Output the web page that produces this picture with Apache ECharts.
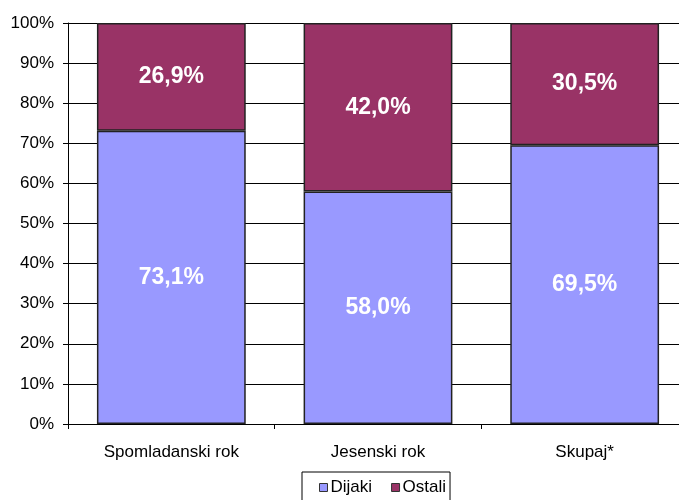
<!DOCTYPE html>
<html><head><meta charset="utf-8">
<script src="https://cdn.jsdelivr.net/npm/echarts@6/dist/echarts.min.js"></script>
<style>html,body{margin:0;padding:0;background:#fff;overflow:hidden;width:679px;height:500px}#c{width:690px;height:500px}</style>
</head><body><div id="c"></div>
<script>
var categories = ['Spomladanski rok', 'Jesenski rok', 'Skupaj*'];
var dijaki = [73.1, 58.0, 69.5];
var ostali = [26.9, 42.0, 30.5];
var yTicks = [0, 10, 20, 30, 40, 50, 60, 70, 80, 90, 100];

var font = 'Liberation Sans, Arial, sans-serif';
var chart = echarts.init(document.getElementById('c'), null, {renderer: 'canvas'});
function lbl(v) { return v.toFixed(1).replace('.', ',') + '%'; }
chart.setOption({
  animation: false,
  grid: {left: 68, right: 2, top: 23, bottom: 76},
  legend: {
    top: 472, left: 302,
    data: ['Dijaki', 'Ostali'],
    itemWidth: 8, itemHeight: 8, itemGap: 19,
    icon: 'rect',
    padding: [7, 4, 9, 17],
    borderColor: '#000', borderWidth: 1,
    itemStyle: {borderColor: '#333', borderWidth: 1},
    textStyle: {fontFamily: font, fontSize: 17, color: '#000', padding: [0, 0, 0, -2]}
  },
  xAxis: {
    type: 'category', data: categories,
    axisLine: {lineStyle: {color: '#000'}},
    axisTick: {show: true, length: 5, lineStyle: {color: '#000'}},
    axisLabel: {fontFamily: font, fontSize: 17, color: '#000', margin: 20}
  },
  yAxis: {
    type: 'value', min: 0, max: 100, interval: 10,
    axisLine: {show: true, lineStyle: {color: '#000'}},
    axisTick: {show: true, length: 5, lineStyle: {color: '#000'}},
    splitLine: {lineStyle: {color: '#000'}},
    axisLabel: {fontFamily: font, fontSize: 17, color: '#000', margin: 14,
      formatter: function (v) { return yTicks.indexOf(v) >= 0 ? v + '%' : ''; }}
  },
  series: [
    {name: 'Dijaki', type: 'bar', stack: 's', data: dijaki, barCategoryGap: '28%',
     itemStyle: {color: '#9999FF', borderColor: '#222', borderWidth: 1.5},
     label: {show: true, position: 'inside', color: '#fff', fontFamily: font, fontWeight: 'bold', fontSize: 23,
       formatter: function (p) { return lbl(p.value); }}},
    {name: 'Ostali', type: 'bar', stack: 's', data: ostali,
     itemStyle: {color: '#993366', borderColor: '#222', borderWidth: 1.5},
     label: {show: true, position: 'inside', color: '#fff', fontFamily: font, fontWeight: 'bold', fontSize: 23,
       formatter: function (p) { return lbl(p.value); }}}
  ]
});
</script></body></html>
